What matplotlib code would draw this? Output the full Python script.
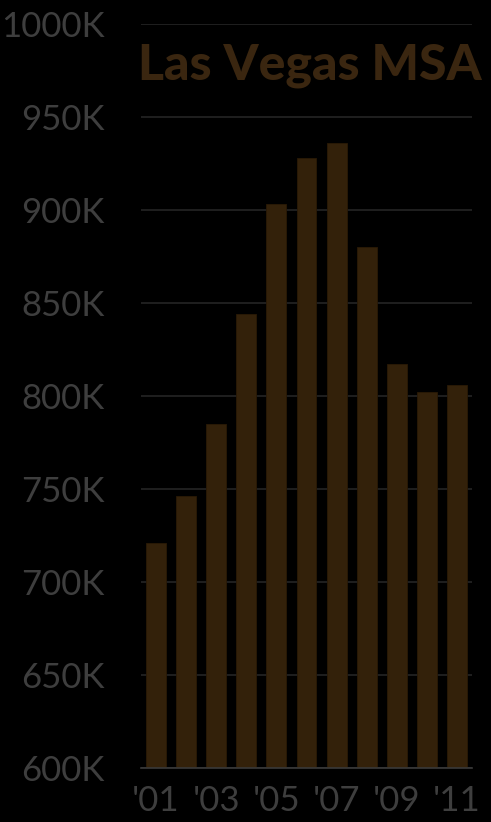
import matplotlib.pyplot as plt
from matplotlib.ticker import FuncFormatter

# Las Vegas MSA, yearly values (thousands)
years = ["'01", "'02", "'03", "'04", "'05", "'06", "'07", "'08", "'09", "'10", "'11"]
values_k = [721, 746, 785, 844, 903, 928, 936, 880, 817, 802, 806]
tick_years = ["'01", "'03", "'05", "'07", "'09", "'11"]

bar_color = '#33210a'
title_color = '#3a2610'
text_color = '#3e3e3e'

plt.rcParams['font.family'] = ['Lato', 'DejaVu Sans']

fig = plt.figure(figsize=(4.91, 8.22), dpi=100, facecolor='black')
ax = fig.add_axes([141 / 491, 54 / 822, 331 / 491, 744 / 822], facecolor='black')

x = list(range(len(years)))
ax.bar(x, values_k, width=0.66, color=bar_color, edgecolor='#2a1a06', linewidth=0.6, zorder=2)

ax.set_xlim(-0.5, len(years) - 0.5)
ax.set_ylim(600, 1000)
ax.set_yticks(range(600, 1001, 50))
ax.yaxis.set_major_formatter(FuncFormatter(lambda v, p: f'{int(v)}K'))
ax.set_xticks([years.index(t) for t in tick_years])
ax.set_xticklabels(tick_years)

ax.grid(axis='y', color='#252525', linewidth=1.2, zorder=0)
ax.set_axisbelow(True)
for s in ['top', 'right', 'left']:
    ax.spines[s].set_visible(False)
ax.spines['bottom'].set_color('#3a3a3a')
ax.spines['bottom'].set_linewidth(1.2)

ax.tick_params(axis='both', length=0, colors=text_color, labelsize=25)
ax.tick_params(axis='y', pad=26)
ax.tick_params(axis='x', pad=12)

fig.text(138 / 491, 1 - 80 / 822, 'Las Vegas MSA', color=title_color,
         fontsize=36, fontweight='black', ha='left', va='baseline')

fig.savefig('out.png', dpi=100, facecolor='black')
